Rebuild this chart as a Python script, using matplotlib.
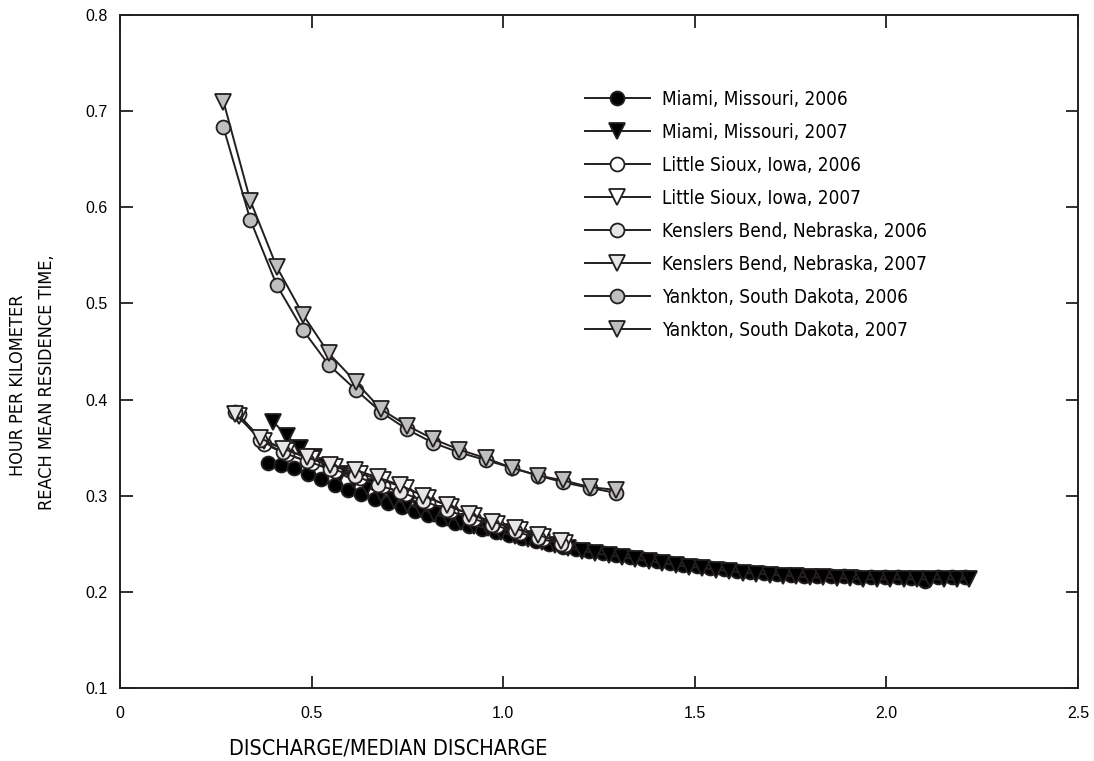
import matplotlib
matplotlib.use("Agg")
import matplotlib.pyplot as plt

# values (discharge ratio vs residence time, hour/km)
miami06_x = [0.385, 0.42, 0.455, 0.49, 0.525, 0.56, 0.595, 0.63, 0.665, 0.70,
             0.735, 0.77, 0.805, 0.84, 0.875, 0.91, 0.945, 0.98, 1.015, 1.05,
             1.085, 1.12, 1.155, 1.19, 1.225, 1.26, 1.295, 1.33, 1.365, 1.40,
             1.435, 1.47, 1.505, 1.54, 1.575, 1.61, 1.645, 1.68, 1.715, 1.75,
             1.785, 1.82, 1.855, 1.89, 1.925, 1.96, 1.995, 2.03, 2.065, 2.10,
             2.135, 2.17, 2.205]
miami06_y = [0.334, 0.332, 0.329, 0.323, 0.317, 0.311, 0.306, 0.302, 0.297, 0.292,
             0.288, 0.284, 0.280, 0.276, 0.272, 0.268, 0.265, 0.262, 0.259, 0.256,
             0.253, 0.250, 0.247, 0.245, 0.242, 0.240, 0.238, 0.236, 0.234, 0.232,
             0.230, 0.228, 0.227, 0.225, 0.224, 0.222, 0.221, 0.220, 0.219, 0.218,
             0.217, 0.217, 0.216, 0.216, 0.215, 0.215, 0.215, 0.215, 0.214, 0.211,
             0.215, 0.215, 0.215]

miami07_x = [0.40, 0.435, 0.47, 0.505, 0.54, 0.575, 0.61, 0.645, 0.68, 0.715,
             0.75, 0.785, 0.82, 0.855, 0.89, 0.925, 0.96, 0.995, 1.03, 1.065,
             1.10, 1.135, 1.17, 1.205, 1.24, 1.275, 1.31, 1.345, 1.38, 1.415,
             1.45, 1.485, 1.52, 1.555, 1.59, 1.625, 1.66, 1.695, 1.73, 1.765,
             1.80, 1.835, 1.87, 1.905, 1.94, 1.975, 2.01, 2.045, 2.08, 2.115,
             2.15, 2.185, 2.215]
miami07_y = [0.377, 0.362, 0.350, 0.340, 0.331, 0.323, 0.316, 0.309, 0.302, 0.296,
             0.291, 0.286, 0.281, 0.277, 0.273, 0.269, 0.266, 0.262, 0.258, 0.255,
             0.252, 0.249, 0.246, 0.243, 0.240, 0.238, 0.236, 0.234, 0.232, 0.230,
             0.228, 0.226, 0.225, 0.223, 0.222, 0.220, 0.219, 0.218, 0.217, 0.216,
             0.215, 0.215, 0.214, 0.214, 0.213, 0.213, 0.213, 0.213, 0.213, 0.213,
             0.213, 0.213, 0.213]

lsioux06_x = [0.31, 0.375, 0.437, 0.50, 0.56, 0.625, 0.685, 0.745, 0.805, 0.865,
              0.925, 0.985, 1.045, 1.105, 1.16]
lsioux06_y = [0.385, 0.354, 0.343, 0.334, 0.326, 0.318, 0.310, 0.302, 0.293, 0.284,
              0.276, 0.268, 0.261, 0.255, 0.249]
lsioux07_x = [0.31, 0.375, 0.437, 0.50, 0.56, 0.625, 0.685, 0.745, 0.805, 0.865,
              0.925, 0.985, 1.045, 1.105, 1.16]
lsioux07_y = [0.383, 0.357, 0.347, 0.338, 0.330, 0.323, 0.316, 0.308, 0.298, 0.288,
              0.279, 0.271, 0.264, 0.257, 0.251]

kens06_x = [0.30, 0.365, 0.425, 0.487, 0.548, 0.613, 0.673, 0.731, 0.791, 0.853,
            0.912, 0.972, 1.03, 1.09, 1.15]
kens06_y = [0.387, 0.358, 0.345, 0.336, 0.328, 0.321, 0.311, 0.304, 0.295, 0.285,
            0.277, 0.270, 0.263, 0.256, 0.250]
kens07_x = [0.30, 0.365, 0.425, 0.487, 0.548, 0.613, 0.673, 0.731, 0.791, 0.853,
            0.912, 0.972, 1.03, 1.09, 1.15]
kens07_y = [0.385, 0.360, 0.349, 0.340, 0.332, 0.327, 0.319, 0.311, 0.300, 0.290,
            0.281, 0.273, 0.266, 0.259, 0.253]

yank06_x = [0.27, 0.34, 0.409, 0.478, 0.545, 0.616, 0.681, 0.749, 0.817, 0.885,
            0.955, 1.023, 1.091, 1.156, 1.227, 1.294]
yank06_y = [0.683, 0.587, 0.519, 0.472, 0.436, 0.410, 0.387, 0.369, 0.355, 0.345,
            0.337, 0.329, 0.321, 0.314, 0.308, 0.303]
yank07_x = [0.27, 0.34, 0.409, 0.478, 0.545, 0.616, 0.681, 0.749, 0.817, 0.885,
            0.955, 1.023, 1.091, 1.156, 1.227, 1.294]
yank07_y = [0.710, 0.607, 0.538, 0.488, 0.448, 0.418, 0.390, 0.373, 0.359, 0.348,
            0.339, 0.329, 0.321, 0.316, 0.309, 0.306]

names = ["Miami, Missouri, 2006", "Miami, Missouri, 2007",
         "Little Sioux, Iowa, 2006", "Little Sioux, Iowa, 2007",
         "Kenslers Bend, Nebraska, 2006", "Kenslers Bend, Nebraska, 2007",
         "Yankton, South Dakota, 2006", "Yankton, South Dakota, 2007"]

ink = "#231f20"
fills = ["#000000", "#000000", "#ffffff", "#ffffff",
         "#e6e6e6", "#e6e6e6", "#bfbfbf", "#bfbfbf"]
marks = ["o", "v", "o", "v", "o", "v", "o", "v"]
xs = [miami06_x, miami07_x, lsioux06_x, lsioux07_x, kens06_x, kens07_x, yank06_x, yank07_x]
ys = [miami06_y, miami07_y, lsioux06_y, lsioux07_y, kens06_y, kens07_y, yank06_y, yank07_y]

plt.rcParams["font.family"] = ["Liberation Sans", "DejaVu Sans"]
cond = {"family": "DejaVu Sans", "stretch": "condensed"}

fig = plt.figure(figsize=(10.94, 7.61), dpi=100)
ax = fig.add_axes([0.1097, 0.0959, 0.8757, 0.8844])

for i in range(8):
    ax.plot(xs[i], ys[i], color=ink, lw=1.4, marker=marks[i], ms=11.5 if marks[i] == "v" else 10,
            mfc=fills[i], mec=ink, mew=1.3, label=names[i], zorder=2 + i)

ax.set_xlim(0, 2.5)
ax.set_ylim(0.1, 0.8)
ax.set_xticks([0, 0.5, 1.0, 1.5, 2.0, 2.5])
ax.set_xticklabels(["0", "0.5", "1.0", "1.5", "2.0", "2.5"])
ax.set_yticks([0.1, 0.2, 0.3, 0.4, 0.5, 0.6, 0.7, 0.8])
ax.set_yticklabels(["0.1", "0.2", "0.3", "0.4", "0.5", "0.6", "0.7", "0.8"])
ax.tick_params(direction="in", length=9, width=1.3, color=ink, labelsize=11.5,
               top=True, right=True)
ax.tick_params(axis="x", pad=13)
ax.tick_params(axis="y", pad=9)
for s in ax.spines.values():
    s.set_linewidth(1.4)
    s.set_color(ink)

leg = ax.legend(loc="upper left", bbox_to_anchor=(0.468, 0.914), frameon=False,
                handlelength=3.4, handletextpad=0.65, labelspacing=0.74,
                prop={"family": "DejaVu Sans", "stretch": "condensed", "size": 13.6})

fig.text(388 / 1094, 1 - 748 / 761, "DISCHARGE/MEDIAN DISCHARGE", ha="center", va="center",
         fontsize=15.5, **cond)
fig.text(18 / 1094, 1 - 385 / 761, "HOUR PER KILOMETER", rotation=90, ha="center", va="center",
         fontsize=13, **cond)
fig.text(47 / 1094, 1 - 382 / 761, "REACH MEAN RESIDENCE TIME,", rotation=90, ha="center", va="center",
         fontsize=13, **cond)

fig.savefig("out.png", dpi=100)
